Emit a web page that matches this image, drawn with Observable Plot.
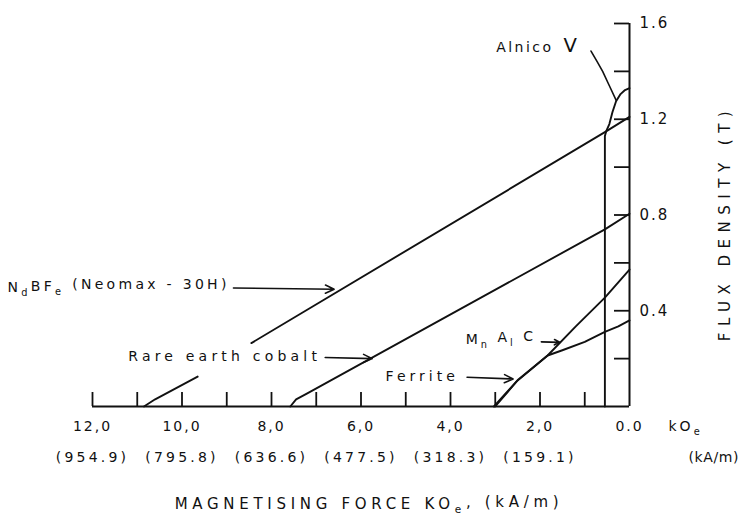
<!DOCTYPE html>
<html>
<head>
<meta charset="utf-8">
<script src="https://cdn.jsdelivr.net/npm/d3@7"></script>
<script src="https://cdn.jsdelivr.net/npm/@observablehq/plot@0.6"></script>
<style>
  html, body { margin: 0; padding: 0; background: #fff; }
  #chart svg { display: block; }
</style>
</head>
<body>
<div id="chart"></div>
<script>
// Second-quadrant demagnetisation curves: H in kOe (plotted leftwards), B in tesla.
const ndbfe = [[10.85, 0], [10.6, 0.03], [9.65, 0.125], [NaN, NaN], [8.45, 0.265], [0.55, 1.146], [0, 1.21]];
const rareEarthCobalt = [[7.58, 0], [7.45, 0.03], [7.2, 0.055], [0.55, 0.74], [0, 0.805]];
const mnalc = [[3.03, 0], [2.52, 0.105], [1.83, 0.213], [1.2, 0.335], [0.55, 0.455], [0, 0.572]];
const ferrite = [[3.0, 0], [2.49, 0.112], [1.83, 0.213], [1.5, 0.235], [1.0, 0.27], [0.55, 0.312], [0.25, 0.335], [0, 0.36]];
const alnicoV = [[0.55, 0], [0.55, 1.13], [0.52, 1.15], [0.45, 1.18], [0.38, 1.23], [0.3, 1.275], [0.2, 1.305], [0.1, 1.322], [0, 1.33]];

// Axis ticks and labels
const xTicks = [12, 11, 10, 9, 8, 7, 6, 5, 4, 3, 2, 1];
const xLabelValues = [12, 10, 8, 6, 4, 2, 0];
const kOeLabels = ["12,0", "10,0", "8,0", "6,0", "4,0", "2,0", "0.0"];
const kAmLabels = ["(954.9)", "(795.8)", "(636.6)", "(477.5)", "(318.3)", "(159.1)"];
const yTicks = [0.2, 0.4, 0.6, 0.8, 1.0, 1.2, 1.4, 1.6];
const yLabelValues = [0.4, 0.8, 1.2, 1.6];
const yLabels = ["0.4", "0.8", "1.2", "1.6"];

// Curve annotations (anchored in H/B units) and their pointers
const annotations = [
  {text: "NdBFe (Neomax - 30H)", h: 13.9, b: 0.495},
  {text: "Rare earth cobalt", h: 11.2, b: 0.209},
  {text: "Ferrite", h: 5.45, b: 0.125},
  {text: "MnAlC", h: 3.66, b: 0.28},
  {text: "Alnico V", h: 2.98, b: 1.50}
];
const pointers = [
  {h1: 8.85, b1: 0.495, h2: 6.6, b2: 0.49},
  {h1: 6.8, b1: 0.205, h2: 5.75, b2: 0.2},
  {h1: 3.63, b1: 0.122, h2: 2.6, b2: 0.115},
  {h1: 1.97, b1: 0.27, h2: 1.55, b2: 0.268}
];
const alnicoLeader = [[0.86, 1.485], [0.72, 1.44], [0.6, 1.40], [0.45, 1.34], [0.3, 1.28]];

const curves = [
  ["NdBFe", ndbfe], ["Rare earth cobalt", rareEarthCobalt], ["MnAlC", mnalc],
  ["Ferrite", ferrite], ["Alnico V", alnicoV]
].flatMap(([series, pts]) => pts.map(([h, b]) => ({series, h, b})));

const xTitle = "MAGNETISING FORCE KOe, (kA/m)";
const yTitle = "FLUX DENSITY (T)";

const ink = "#111";

const chart = Plot.plot({
  width: 741,
  height: 524,
  marginLeft: 92,
  marginRight: 112,
  marginTop: 23,
  marginBottom: 118,
  x: {domain: [12, 0], axis: null},
  y: {domain: [0, 1.6], axis: null},
  style: {fontFamily: "'DejaVu Sans', sans-serif", fontSize: "14px", color: ink, background: "#fff", overflow: "visible", letterSpacing: "2px"},
  marks: [
    // frame: baseline and right-hand B axis
    Plot.ruleY([0], {x1: 12, x2: 0, stroke: ink, strokeWidth: 2}),
    Plot.ruleX([0], {y1: 0, y2: 1.6, stroke: ink, strokeWidth: 2}),
    // inward ticks
    Plot.ruleX(xTicks, {x: d => d, y1: 0, y2: 0, insetBottom: 14, stroke: ink, strokeWidth: 1.8}),
    Plot.ruleY(yTicks, {y: d => d, x1: 0, x2: 0, insetRight: 15, stroke: ink, strokeWidth: 1.8}),
    // tick labels
    Plot.text(xLabelValues, {x: d => d, y: 0, dy: 20, text: (d, i) => kOeLabels[i], fill: ink, fontSize: 14}),
    Plot.text(kAmLabels, {x: (d, i) => xLabelValues[i], y: 0, dy: 51, text: d => d, fill: ink, fontSize: 14}),
    Plot.text(["kOe"], {x: 0, y: 0, dx: 39, dy: 20, text: d => d, textAnchor: "start", fill: ink, fontSize: 14}),
    Plot.text(["(kA/m)"], {x: 0, y: 0, dx: 59, dy: 51, text: d => d, textAnchor: "start", fill: ink, fontSize: 14}),
    Plot.text(yLabelValues, {x: 0, y: d => d, dx: 10, text: (d, i) => yLabels[i], textAnchor: "start", fill: ink, fontSize: 15}),
    // axis titles
    Plot.text([xTitle], {frameAnchor: "bottom", textAnchor: "middle", dx: 8, dy: 102, text: d => d, fill: ink, fontSize: 15}),
    Plot.text([yTitle], {frameAnchor: "right", textAnchor: "middle", dx: 96, dy: 8, rotate: -90, text: d => d, fill: ink, fontSize: 15}),
    // curves
    Plot.line(curves, {x: "h", y: "b", z: "series", stroke: ink, strokeWidth: 1.9, curve: "linear"}),
    // annotations
    Plot.line(alnicoLeader, {x: d => d[0], y: d => d[1], stroke: ink, strokeWidth: 1.6}),
    Plot.arrow(pointers, {x1: "h1", y1: "b1", x2: "h2", y2: "b2", stroke: ink, strokeWidth: 1.6, headLength: 9, headAngle: 50}),
    Plot.text(annotations, {x: "h", y: "b", text: "text", textAnchor: "start", fill: ink, fontSize: 14})
  ]
});

// Letter spacing, subscripts and enlarged letters for the lettered labels
const lettering = {
  "NdBFe (Neomax - 30H)": {spacing: 3.3, parts: [["N"], ["d", "sub"], ["BF"], ["e", "sub"], [" (Neomax - 30H)"]]},
  "Rare earth cobalt": {spacing: 4.2},
  "Ferrite": {spacing: 4},
  "MnAlC": {spacing: 3, parts: [["M"], ["n", "sub"], [" A"], ["l", "sub"], [" C"]]},
  "Alnico V": {spacing: 2.5, parts: [["Alnico "], ["V", "big"]]},
  "kOe": {spacing: 3, parts: [["kO"], ["e", "sub"]]},
  "(kA/m)": {spacing: 0.6},
  "(954.9)": {spacing: 3.2}, "(795.8)": {spacing: 3.2}, "(636.6)": {spacing: 3.2},
  "(477.5)": {spacing: 3.2}, "(318.3)": {spacing: 3.2}, "(159.1)": {spacing: 3.2},
  [xTitle]: {spacing: 4.7, parts: [["MAGNETISING FORCE KO"], ["e", "sub"], [", (kA/m)"]]},
  [yTitle]: {spacing: 6.5}
};

d3.select(chart).selectAll("text").each(function () {
  const fmt = lettering[this.textContent];
  if (!fmt) return;
  const el = d3.select(this).attr("letter-spacing", fmt.spacing + "px");
  if (!fmt.parts) return;
  el.text(null);
  let lowered = false;
  for (const [str, kind] of fmt.parts) {
    const ts = el.append("tspan").text(str);
    if (kind === "sub") {
      ts.attr("font-size", "0.7em");
      if (!lowered) { ts.attr("dy", "0.4em"); lowered = true; }
    } else {
      if (lowered) { ts.attr("dy", "-0.4em"); lowered = false; }
      if (kind === "big") ts.attr("font-size", "1.4em").attr("dx", 3);
    }
  }
});

document.getElementById("chart").append(chart);
</script>
</body>
</html>
